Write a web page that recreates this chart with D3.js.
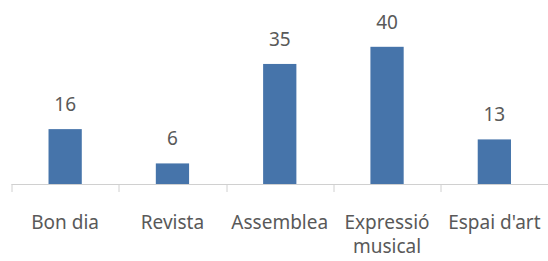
<!DOCTYPE html>
<html>
<head>
<meta charset="utf-8">
<script src="https://cdn.jsdelivr.net/npm/d3@7/dist/d3.min.js"></script>
<style>
body { margin: 0; background: #fff; }
text { font-family: "Noto Sans", sans-serif; fill: #595959; }
</style>
</head>
<body>
<div id="chart"></div>
<script>
var categories = ["Bon dia", "Revista", "Assemblea", "Expressió musical", "Espai d'art"]
var values = [16, 6, 35, 40, 13]

var w = 548
var h = 261
var margin = {top: 30, right: 0, bottom: 77, left: 11.5}
var width = w - margin.left - margin.right
var height = h - margin.top - margin.bottom

var svg = d3.select("#chart").append("svg")
  .attr("width", w)
  .attr("height", h)

var g = svg.append("g")
  .attr("transform", "translate(" + margin.left + "," + margin.top + ")")

var x = d3.scaleBand().domain(categories).range([0, width]).paddingInner(0.69).paddingOuter(0.345)
var y = d3.scaleLinear().domain([0, 45]).range([height, height - 45 * 3.43])

var band = width / categories.length

// axis line + ticks on category boundaries
g.append("line")
  .attr("x1", 0).attr("x2", width)
  .attr("y1", height + 0.5).attr("y2", height + 0.5)
  .attr("stroke", "#d0d0d0")

g.selectAll(".tick").data(d3.range(categories.length + 1))
  .enter().append("line")
  .attr("x1", i => Math.round(i * band) + 0.5)
  .attr("x2", i => Math.round(i * band) + 0.5)
  .attr("y1", height)
  .attr("y2", height + 8)
  .attr("stroke", "#d0d0d0")

g.selectAll(".bar").data(values)
  .enter().append("rect")
  .attr("class", "bar")
  .attr("x", (d, i) => x(categories[i]))
  .attr("width", x.bandwidth())
  .attr("y", d => y(d))
  .attr("height", d => y(0) - y(d))
  .attr("fill", "#4674aa")

g.selectAll(".val").data(values)
  .enter().append("text")
  .attr("x", (d, i) => x(categories[i]) + x.bandwidth() / 2)
  .attr("y", d => y(d) - 18)
  .attr("text-anchor", "middle")
  .style("font-size", "19px")
  .text(d => d)

var labels = g.selectAll(".cat").data(categories)
  .enter().append("text")
  .attr("class", "cat")
  .attr("x", d => x(d) + x.bandwidth() / 2)
  .attr("y", height + 45)
  .attr("text-anchor", "middle")
  .style("font-size", "19px")

// wrap long labels onto two lines
labels.each(function(d) {
  var t = d3.select(this)
  t.text(d)
  if (this.getComputedTextLength() > band - 4) {
    var words = d.split(" ")
    t.text(null)
    words.forEach((wd, i) => {
      t.append("tspan")
        .attr("x", x(d) + x.bandwidth() / 2)
        .attr("dy", i ? 24 : 0)
        .text(wd)
    })
  }
})
</script>
</body>
</html>
